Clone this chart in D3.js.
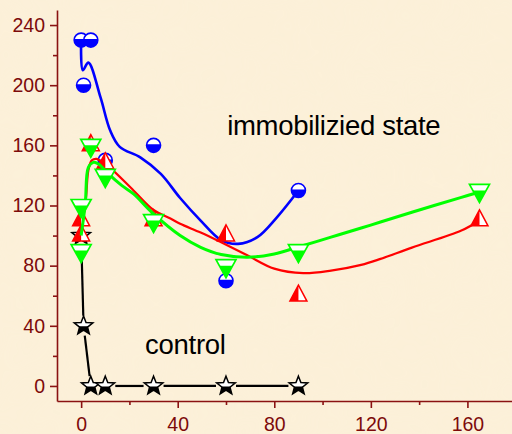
<!DOCTYPE html>
<html>
<head>
<meta charset="utf-8">
<script src="https://cdn.jsdelivr.net/npm/d3@7"></script>
<style>
html,body{margin:0;padding:0;background:#fbefd7;}
svg{display:block;}
</style>
</head>
<body>
<svg id="chart" width="512" height="434"></svg>
<script>
// ---- data ----
const xTickValues = [0, 40, 80, 120, 160];
const xMinorTicks = [20, 60, 100, 140];
const yTickValues = [0, 40, 80, 120, 160, 200, 240];
const yMinorTicks = [20, 60, 100, 140, 180, 220];

// measured points
const blueX = [0, 1, 4, 10, 30, 60, 90];
const blueY = [230, 200, 230, 150, 160, 70, 130];
const redX = [0, 0, 4, 10, 30, 60, 90, 165];
const redY = [110, 100, 160, 148, 110, 100, 60, 110];
const greenX = [0, 0, 4, 10, 30, 60, 90, 165];
const greenY = [120, 90, 160, 140, 110, 80, 90, 130];
const controlX = [0, 1, 4, 10, 30, 60, 90];
const controlY = [100, 40, 0, 0, 0, 0, 0];

// fitted curves
const blueFitX = [0, 0.7, 3, 8, 12, 16, 24.5, 33, 41, 49.5, 58, 65, 73, 81, 90];
const blueFitY = [230, 210, 215, 192, 170, 159, 152, 141, 125, 110, 97, 94.5, 99, 112, 130];
const redFitX = [0, 2, 3, 4.4, 6.5, 8.6, 12, 21.7, 30, 37, 41, 49.5, 58, 69, 80, 92, 103.5, 116, 124, 137, 157.5, 165];
const redFitY = [102, 125, 143.5, 150, 151, 148.7, 145, 130, 117, 111.3, 107.8, 102, 95.5, 86.7, 78, 75, 76.7, 80.5, 84.5, 92, 103.3, 110];
const greenFitX = [0, 1.7, 3, 5.1, 7.2, 11.3, 16.9, 21.7, 30, 41, 49.5, 58, 69, 80, 89.6, 103.5, 116, 124, 137, 157.5, 165];
const greenFitY = [100, 121, 145.4, 148.7, 147.6, 141, 133.2, 127.7, 114.4, 100, 92.2, 87.4, 85.6, 87.8, 92.2, 99, 105, 109, 115.5, 125.4, 129];

const labels = [
  {text: "immobilizied state", x: 60.5, y: 167},
  {text: "control", x: 26.5, y: 21.3}
];

// ---- layout ----
const svg = d3.select("#chart");
const W = 512, H = 434;
const axisColor = "#8a1212";
const labelColor = "#7d0a0a";

// background with subtle parchment texture
const defs = svg.append("defs");
const filt = defs.append("filter").attr("id", "paper").attr("x", 0).attr("y", 0).attr("width", "100%").attr("height", "100%");
filt.append("feTurbulence").attr("type", "fractalNoise").attr("baseFrequency", "0.015").attr("numOctaves", 3).attr("seed", 7).attr("result", "noise");
filt.append("feColorMatrix").attr("in", "noise").attr("type", "matrix")
  .attr("values", "0 0 0 0 0.96  0 0 0 0 0.90  0 0 0 0 0.76  0 0 0 0.5 0");
svg.append("rect").attr("width", W).attr("height", H).attr("fill", "#fcf0d8");
svg.append("rect").attr("width", W).attr("height", H).attr("filter", "url(#paper)").attr("opacity", 0.22);

const x = d3.scaleLinear().domain([-10, 180]).range([57, 515.7]);
const y = d3.scaleLinear().domain([-10, 250]).range([401, 10]);

// axes
const font = "'Liberation Sans', Arial, sans-serif";
const gx = svg.append("g").attr("transform", `translate(0,${y(-10)})`)
  .call(d3.axisBottom(x).tickValues(xTickValues).tickSize(7).tickSizeOuter(0).tickPadding(9));
const gxm = svg.append("g").attr("transform", `translate(0,${y(-10)})`)
  .call(d3.axisBottom(x).tickValues(xMinorTicks).tickSize(4).tickSizeOuter(0).tickFormat(""));
gxm.select(".domain").remove();
const gy = svg.append("g").attr("transform", `translate(${x(-10)},0)`)
  .call(d3.axisLeft(y).tickValues(yTickValues).tickSize(7).tickSizeOuter(0).tickPadding(5));
const gym = svg.append("g").attr("transform", `translate(${x(-10)},0)`)
  .call(d3.axisLeft(y).tickValues(yMinorTicks).tickSize(4).tickSizeOuter(0).tickFormat(""));
gym.select(".domain").remove();
[gx, gxm, gy, gym].forEach(g => {
  g.selectAll("path,line").attr("stroke", axisColor).attr("stroke-width", 1.6);
  g.selectAll("text").attr("fill", labelColor).attr("font-family", font).attr("font-size", "19.5px");
});

const zip = (xs, ys) => xs.map((v, i) => [v, ys[i]]);
const line = d3.line().x(d => x(d[0])).y(d => y(d[1])).curve(d3.curveCatmullRom.alpha(0.5));

// ---- markers ----
function circleMarker(g, cx, cy) {
  const r = 7;
  const m = g.append("g").attr("transform", `translate(${cx},${cy})`);
  m.append("circle").attr("r", r).attr("fill", "#fff");
  const s = -1, hx = Math.sqrt(r * r - s * s);
  m.append("path").attr("d", `M${-hx},${s} A${r},${r} 0 1 0 ${hx},${s} Z`).attr("fill", "#0000ff");
  m.append("circle").attr("r", r).attr("fill", "none").attr("stroke", "#0000ff").attr("stroke-width", 1.6);
}
function upTriangle(g, cx, cy) {
  const m = g.append("g").attr("transform", `translate(${cx},${cy})`);
  const h = 16, w = 17;
  const top = -h * 2 / 3, bot = h / 3;
  m.append("path").attr("d", `M0,${top} L${w/2},${bot} L${-w/2},${bot} Z`).attr("fill", "#fff");
  m.append("path").attr("d", `M0,${top} L0,${bot} L${-w/2},${bot} Z`).attr("fill", "#ff0000");
  m.append("path").attr("d", `M0,${top} L${w/2},${bot} L${-w/2},${bot} Z`).attr("fill", "none")
    .attr("stroke", "#ff0000").attr("stroke-width", 1.5).attr("stroke-linejoin", "miter");
}
function downTriangle(g, cx, cy) {
  const m = g.append("g").attr("transform", `translate(${cx},${cy})`);
  const h = 18, w = 20;
  const top = -h / 3, bot = h * 2 / 3;
  m.append("path").attr("d", `M${-w/2},${top} L${w/2},${top} L0,${bot} Z`).attr("fill", "#fff");
  const hw = (w / 2) * (bot / h);
  m.append("path").attr("d", `M${-hw},0 L${hw},0 L0,${bot} Z`).attr("fill", "#00ff00");
  m.append("path").attr("d", `M${-w/2},${top} L${w/2},${top} L0,${bot} Z`).attr("fill", "none")
    .attr("stroke", "#00ff00").attr("stroke-width", 1.7);
}
function starPath(R, r) {
  const pts = [];
  for (let i = 0; i < 10; i++) {
    const a = -Math.PI / 2 + i * Math.PI / 5;
    const rr = i % 2 === 0 ? R : r;
    pts.push([rr * Math.cos(a), rr * Math.sin(a)]);
  }
  return "M" + pts.map(p => p.join(",")).join("L") + "Z";
}
let starId = 0;
function starMarker(g, cx, cy) {
  const m = g.append("g").attr("transform", `translate(${cx},${cy})`);
  const d = starPath(9.8, 4.2);
  const id = "starclip" + (starId++);
  defs.append("clipPath").attr("id", id).append("rect").attr("x", -12).attr("y", 0.5).attr("width", 24).attr("height", 12);
  m.append("path").attr("d", d).attr("fill", "#fff");
  m.append("path").attr("d", d).attr("fill", "#000").attr("clip-path", `url(#${id})`);
  m.append("path").attr("d", d).attr("fill", "none").attr("stroke", "#000").attr("stroke-width", 1.5).attr("stroke-linejoin", "miter");
}

// ---- control series (straight segments with gaps at markers) ----
const gCtrl = svg.append("g");
const ctrlPts = zip(controlX, controlY).map(d => [x(d[0]), y(d[1])]);
const gap = 10;
for (let i = 0; i < ctrlPts.length - 1; i++) {
  const [x1, y1] = ctrlPts[i], [x2, y2] = ctrlPts[i + 1];
  const len = Math.hypot(x2 - x1, y2 - y1);
  if (len <= 2 * gap) continue;
  const ux = (x2 - x1) / len, uy = (y2 - y1) / len;
  gCtrl.append("line")
    .attr("x1", x1 + ux * gap).attr("y1", y1 + uy * gap)
    .attr("x2", x2 - ux * gap).attr("y2", y2 - uy * gap)
    .attr("stroke", "#000").attr("stroke-width", 2.2);
}
ctrlPts.forEach(p => starMarker(gCtrl, p[0], p[1]));

// ---- blue ----
const gBlue = svg.append("g");
gBlue.append("path").attr("d", line(zip(blueFitX, blueFitY))).attr("fill", "none").attr("stroke", "#0000ff").attr("stroke-width", 2.6);
zip(blueX, blueY).forEach(d => circleMarker(gBlue, x(d[0]), y(d[1])));

// ---- red ----
const gRed = svg.append("g");
gRed.append("path").attr("d", line(zip(redFitX, redFitY))).attr("fill", "none").attr("stroke", "#ff0000").attr("stroke-width", 2.2);
zip(redX, redY).forEach(d => upTriangle(gRed, x(d[0]), y(d[1])));

// ---- green ----
const gGreen = svg.append("g");
gGreen.append("path").attr("d", line(zip(greenFitX, greenFitY))).attr("fill", "none").attr("stroke", "#00ff00").attr("stroke-width", 3);
zip(greenX, greenY).forEach(d => downTriangle(gGreen, x(d[0]), y(d[1])));

// ---- annotations (positions in data units) ----
labels.forEach(l => {
  svg.append("text").attr("x", x(l.x)).attr("y", y(l.y))
    .attr("font-family", font).attr("font-size", "27.5px").attr("fill", "#000").attr("letter-spacing", "-0.3px")
    .text(l.text);
});
</script>
</body>
</html>
